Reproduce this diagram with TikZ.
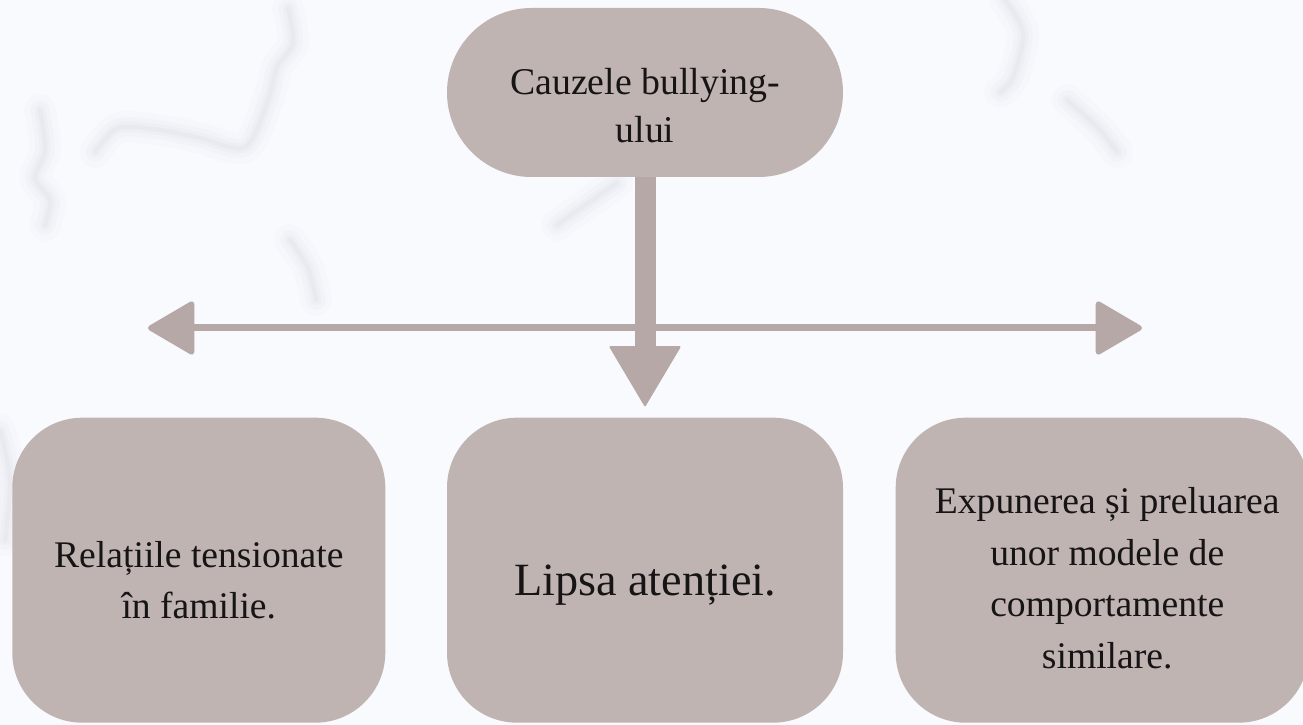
\documentclass[tikz,border=0pt]{standalone}
\usepackage{fontspec}
\setmainfont{Liberation Serif}
\usetikzlibrary{arrows.meta, positioning, calc}
\definecolor{Marmura}{RGB}{249,250,254}
\definecolor{VenaGri}{RGB}{150,156,172}
\definecolor{Roz}{RGB}{191,180,178}
\definecolor{RozInchis}{RGB}{181,168,166}
\definecolor{TextNegru}{RGB}{22,20,20}

\begin{document}
\begin{tikzpicture}[
    cauza/.style={fill=Roz, rounded corners=1.69cm,
        minimum width=7.92cm, minimum height=3.38cm},
    casuta/.style={fill=Roz, rounded corners=1.4cm, minimum height=6.1cm},
    eticheta/.style={text=TextNegru, align=center, inner sep=0pt,
        font=\fontsize{21.4}{29.4}\selectfont},
    bara/.style={-{Triangle[length=1.22cm, width=1.44cm, line width=1pt, round]},
        line width=0.42cm, RozInchis},
    linie/.style={>={Triangle[length=0.98cm, width=1.12cm, line width=3pt, round]},
        <->, line width=0.14cm, RozInchis},
    vena/.style={VenaGri, line cap=round, line join=round},
]

% fundal marmura
\fill[Marmura] (0,0) rectangle (26.06,14.5);
\useasboundingbox (0,0) rectangle (26.06,14.5);
\begin{scope}[x=0.02cm, y=-0.02cm, yshift=14.5cm]
    \foreach \w/\o in {18pt/0.025, 11pt/0.035, 6pt/0.045, 2.5pt/0.06} {
        \draw[vena, line width=\w, opacity=\o] plot[smooth]
            coordinates {(40,110) (45,150) (35,178) (50,200) (45,225)};
        \draw[vena, line width=\w, opacity=\o] plot[smooth]
            coordinates {(95,152) (118,128) (160,130) (200,138) (245,147)
                         (268,100) (277,67) (293,43) (288,8)};
        \draw[vena, line width=\w, opacity=\o] plot[smooth]
            coordinates {(290,240) (308,268) (316,300)};
        \draw[vena, line width=\w, opacity=\o] plot[smooth]
            coordinates {(557,225) (585,205) (617,183)};
        \draw[vena, line width=\w, opacity=\o] plot[smooth]
            coordinates {(1005,0) (1023,33) (1013,77) (1000,92)};
        \draw[vena, line width=\w, opacity=\o] plot[smooth]
            coordinates {(1067,100) (1097,127) (1117,152)};
        \draw[vena, line width=\w, opacity=\o] plot[smooth]
            coordinates {(0,430) (10,480) (5,540)};
    }
\end{scope}

% cauza principala
\node[cauza] (cauze) at (12.9,12.65) {};
\node[eticheta, font=\fontsize{21.5}{27.3}\selectfont]
    (cauze-t) at ([yshift=-0.27cm]cauze.center) {Cauzele bullying-\\ului};

% cele trei cauze
\node[casuta, minimum width=7.92cm, below=4.8cm of cauze] (atentie) {};
\node[casuta, minimum width=7.46cm, left=1.22cm of atentie] (familie) {};
\node[casuta, minimum width=8.26cm, right=1.04cm of atentie] (modele) {};

\node[eticheta, font=\fontsize{26.3}{32}\selectfont]
    (atentie-t) at ([yshift=-0.29cm]atentie.center) {Lipsa atenției.};
\node[eticheta, font=\fontsize{21.4}{29}\selectfont]
    (familie-t) at ([yshift=-0.2cm]familie.center) {Relațiile tensionate\\în familie.};
\node[eticheta] (modele-t) at ([xshift=0.1cm, yshift=-0.16cm]modele.center)
    {Expunerea și preluarea\\unor modele de\\comportamente\\similare.};

% linia orizontala
\coordinate (stanga) at (2.96,7.94);
\coordinate (dreapta) at (22.84,7.94);
\draw[linie] (stanga) -- (dreapta);

% sageata in jos
\coordinate[above=0.22cm of atentie] (varf);
\draw[bara] (cauze) -- (varf);

\end{tikzpicture}
\end{document}
